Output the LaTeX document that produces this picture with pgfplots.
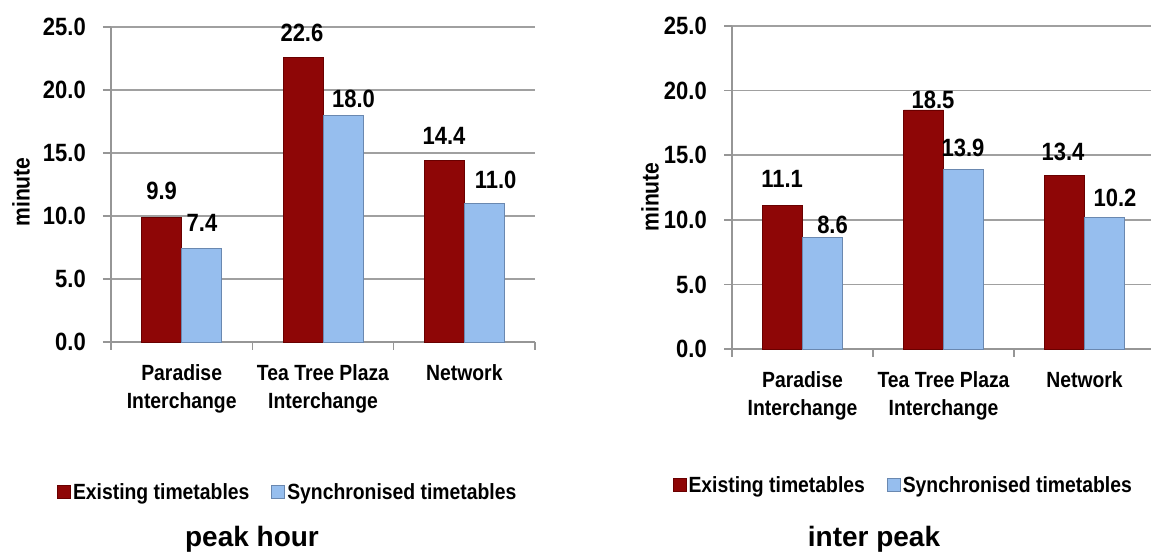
\documentclass[border=0pt]{standalone}
\usepackage{fontspec}
\setmainfont{Liberation Sans}
\newfontfamily\nar{Liberation Sans}[FakeStretch=0.88]
\usepackage{pgfplots}
\pgfplotsset{compat=1.18}
\definecolor{barred}{RGB}{142,6,6}
\definecolor{barredd}{RGB}{105,0,0}
\definecolor{barblue}{RGB}{150,190,238}
\definecolor{barblued}{RGB}{106,136,176}
\definecolor{axisgray}{RGB}{150,150,150}
\definecolor{gridgray}{RGB}{160,160,160}
\tikzset{lab/.style={font=\nar\bfseries\fontsize{25}{30}\selectfont, inner sep=0pt, anchor=center}}
\pgfplotsset{
  mychart/.style={
    scale only axis, anchor=south west, clip=false,
    xmin=-0.5, xmax=2.5, ymin=0, ymax=25,
    ybar=0pt, bar width=40pt,
    axis x line*=bottom, axis y line*=left,
    axis line style={draw=axisgray, line width=1.6pt},
    tick align=outside,
    major tick length=8pt, minor tick length=8pt,
    tick style={draw=axisgray, line width=1.6pt},
    major x tick style={draw=none},
    xtick={0,1,2},
    minor xtick={-0.5,0.5,1.5,2.5},
    xticklabels={{Paradise\\Interchange},{Tea Tree Plaza\\Interchange},{Network}},
    xticklabel style={align=center, inner sep=0pt, yshift=-14pt, font=\nar\bfseries\fontsize{22}{28}\selectfont},
    ytick={0,5,...,25},
    /pgf/number format/assume math mode=true,
    yticklabel style={/pgf/number format/.cd, fixed, fixed zerofill, precision=1, /tikz/.cd,
      inner sep=0pt, xshift=-17pt, font=\nar\bfseries\fontsize{25}{30}\selectfont},
    ymajorgrids,
    major grid style={draw=gridgray, line width=1.6pt},
    legend columns=2,
    legend cell align=left,
    legend style={draw=none, fill=none, anchor=center,
      font=\nar\bfseries\fontsize{22}{26}\selectfont,
      /tikz/every even column/.append style={column sep=20pt}},
  },
  redbar/.style={fill=barred, draw=barredd, line width=0.8pt,
    legend image code/.code={\draw[fill=barred, draw=barredd, line width=0.8pt] (-4pt,-6.5pt) rectangle (9pt,6.5pt);}},
  bluebar/.style={fill=barblue, draw=barblued, line width=0.8pt,
    legend image code/.code={\draw[fill=barblue, draw=barblued, line width=0.8pt] (-4pt,-6.5pt) rectangle (9pt,6.5pt);}},
}
\begin{document}
\begin{tikzpicture}
% ---- left: peak hour
\begin{axis}[mychart, at={(111pt,211pt)}, width=424pt, height=315pt,
  legend style={at={(0.417,-0.476)}}]
\addplot[redbar] coordinates {(0,9.9) (1,22.6) (2,14.4)};
\addplot[bluebar] coordinates {(0,7.4) (1,18.0) (2,11.0)};
\legend{Existing timetables, Synchronised timetables}
\node[lab] at (axis cs:-0.1415,12.0) {9.9};
\node[lab] at (axis cs:0.144,9.48) {7.4};
\node[lab] at (axis cs:0.851,24.56) {22.6};
\node[lab] at (axis cs:1.216,19.33) {18.0};
\node[lab] at (axis cs:1.856,16.39) {14.4};
\node[lab] at (axis cs:2.221,12.9) {11.0};
\end{axis}
% ---- right: inter peak
\begin{axis}[mychart, at={(732pt,204pt)}, width=423pt, height=323pt,
  legend style={at={(0.405,-0.421)}}]
\addplot[redbar] coordinates {(0,11.1) (1,18.5) (2,13.4)};
\addplot[bluebar] coordinates {(0,8.6) (1,13.9) (2,10.2)};
\legend{Existing timetables, Synchronised timetables}
\node[lab] at (axis cs:-0.145,13.16) {11.1};
\node[lab] at (axis cs:0.213,9.6) {8.6};
\node[lab] at (axis cs:0.926,19.27) {18.5};
\node[lab] at (axis cs:1.138,15.6) {13.9};
\node[lab] at (axis cs:1.848,15.29) {13.4};
\node[lab] at (axis cs:2.216,11.69) {10.2};
\end{axis}
% y labels
\node[rotate=90, inner sep=0pt, font=\nar\bfseries\fontsize{24}{28}\selectfont] at (21pt,361pt) {minute};
\node[rotate=90, inner sep=0pt, font=\nar\bfseries\fontsize{24}{28}\selectfont] at (650pt,356pt) {minute};
% titles
\node[anchor=base, inner sep=0pt, font=\bfseries\fontsize{28}{34}\selectfont] at (252pt,6.5pt) {peak hour};
\node[anchor=base, inner sep=0pt, font=\bfseries\fontsize{28}{34}\selectfont] at (874pt,6.5pt) {inter peak};
\pgfresetboundingbox
\useasboundingbox (0pt,0pt) rectangle (1151pt,553pt);
\end{tikzpicture}
\end{document}
